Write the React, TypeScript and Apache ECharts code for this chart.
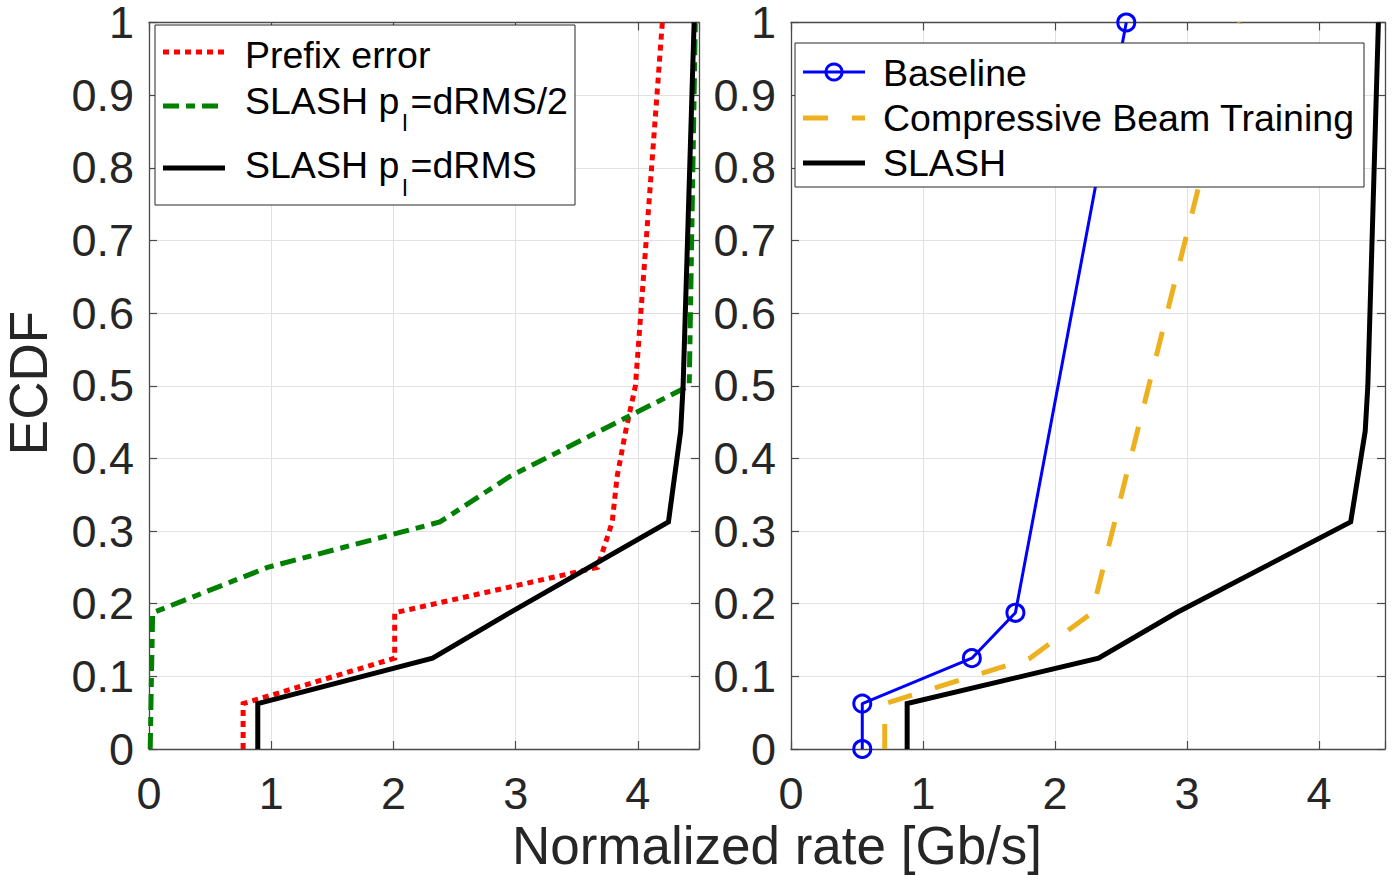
import React, { useEffect, useRef } from "react";
import * as echarts from "echarts";

// ---------- data ----------
// Left panel
const prefixRate = [0.77, 0.77, 2.01, 2.01, 3.67, 3.79, 3.83, 3.9, 3.98, 4.2];
const prefixEcdf = [0, 0.0625, 0.125, 0.1875, 0.25, 0.3125, 0.375, 0.4375, 0.5, 1];

const halfRate = [0.01, 0.02, 0.03, 0.97, 2.38, 2.95, 4.42, 4.47];
const halfEcdf = [0, 0.1, 0.1875, 0.25, 0.3125, 0.375, 0.5, 1];

const slashRate = [0.89, 0.89, 2.32, 2.95, 4.25, 4.35, 4.37, 4.46];
const slashEcdf = [0, 0.0625, 0.125, 0.1875, 0.3125, 0.4375, 0.5, 1];

// Right panel
const baselineRate = [0.54, 0.54, 1.37, 1.7, 2.54];
const baselineEcdf = [0, 0.0625, 0.125, 0.1875, 1];

const cbtRate = [0.71, 0.71, 1.81, 2.28, 3.4];
const cbtEcdf = [0, 0.0625, 0.125, 0.1875, 1];

const slash2Rate = [0.88, 0.88, 2.33, 2.92, 4.24, 4.35, 4.37, 4.45];
const slash2Ecdf = [0, 0.0625, 0.125, 0.1875, 0.3125, 0.4375, 0.5, 1];

const xLabel = "Normalized rate [Gb/s]";
const yLabel = "ECDF";

const zip = (xs: number[], ys: number[]) => xs.map((x, i) => [x, ys[i]]);

const FONT = '"Liberation Sans", Arial, Helvetica, sans-serif';
const AX = "#4a4a4a";
const GRID = "#e2e2e2";
const TXT = "#262626";

function measure(t: string, size: number): number {
  const c = document.createElement("canvas").getContext("2d");
  if (!c) return t.length * size * 0.55;
  c.font = `${size}px "Liberation Sans"`;
  return c.measureText(t).width;
}

export default function App() {
  const ref = useRef<HTMLDivElement>(null);

  useEffect(() => {
    const chart = echarts.init(ref.current!, null, { renderer: "svg" });

    const grids = [
      { left: 149, top: 20, width: 550, height: 729 },
      { left: 791, top: 20, width: 594, height: 729 },
    ];

    const bottomX = (i: number) => ({
      type: "value",
      gridIndex: i,
      min: 0,
      max: 4.5,
      interval: 1,
      position: "bottom",
      axisLine: { show: true, onZero: false, lineStyle: { color: AX, width: 1.3 } },
      axisTick: { show: true, inside: true, length: 8, lineStyle: { color: AX, width: 1.2 } },
      axisLabel: {
        fontSize: 45,
        lineHeight: 36,
        fontFamily: FONT,
        color: TXT,
        margin: 44,
        verticalAlign: "middle",
        formatter: (v: number) => (Math.abs(v - Math.round(v)) < 1e-9 ? String(Math.round(v)) : ""),
      },
      splitLine: { show: true, lineStyle: { color: GRID, width: 1 } },
    });
    const topX = (i: number) => ({
      type: "value",
      gridIndex: i,
      min: 0,
      max: 4.5,
      interval: 1,
      position: "top",
      axisLine: { show: true, onZero: false, lineStyle: { color: AX, width: 1.3 } },
      axisTick: { show: true, inside: true, length: 8, lineStyle: { color: AX, width: 1.2 } },
      axisLabel: { show: false },
      splitLine: { show: false },
    });
    const leftY = (i: number) => ({
      type: "value",
      gridIndex: i,
      min: 0,
      max: 1,
      interval: 0.1,
      position: "left",
      axisLine: { show: true, onZero: false, lineStyle: { color: AX, width: 1.3 } },
      axisTick: { show: true, inside: true, length: 8, lineStyle: { color: AX, width: 1.2 } },
      axisLabel: {
        fontSize: 45,
        lineHeight: 34,
        fontFamily: FONT,
        color: TXT,
        margin: 15,
        formatter: (v: number) => String(Math.round(v * 10) / 10),
      },
      splitLine: { show: true, lineStyle: { color: GRID, width: 1 } },
    });
    const rightY = (i: number) => ({
      type: "value",
      gridIndex: i,
      min: 0,
      max: 1,
      interval: 0.1,
      position: "right",
      axisLine: { show: true, onZero: false, lineStyle: { color: AX, width: 1.3 } },
      axisTick: { show: true, inside: true, length: 8, lineStyle: { color: AX, width: 1.2 } },
      axisLabel: { show: false },
      splitLine: { show: false },
    });

    const lineSeries = (
      name: string,
      data: number[][],
      idx: number,
      color: string,
      width: number,
      type: any
    ) => ({
      name,
      type: "line",
      xAxisIndex: idx,
      yAxisIndex: idx,
      data,
      showSymbol: false,
      symbol: "none",
      lineStyle: { color, width, type, cap: "butt", join: "miter" },
      itemStyle: { color },
      z: 3,
    });

    // legend helpers
    const L = 37.5; // legend font size
    const SUB = 24;
    const txt = (text: string, x: number, y: number, size = L) => ({
      type: "text",
      x,
      y,
      z: 101,
      style: { text, fontSize: size, fontFamily: FONT, fill: "#000", align: "left", verticalAlign: "middle", lineHeight: size * 0.9 },
    });
    const subRow = (x0: number, y: number, ySub: number, rest: string) => {
      const w1 = measure("SLASH p", L);
      const sx = x0 + w1 + 3;
      const sw = measure("l", SUB);
      return [txt("SLASH p", x0, y), txt("l", sx, ySub, SUB), txt(rest, sx + sw + 3, y)];
    };

    const graphic: any[] = [
      // left legend
      { type: "rect", z: 100, shape: { x: 155, y: 25, width: 420, height: 180 }, style: { fill: "#fff", stroke: "#262626", lineWidth: 1 } },
      { type: "line", z: 101, shape: { x1: 163, y1: 52, x2: 225, y2: 52 }, style: { stroke: "#ff0000", lineWidth: 5, lineDash: [6, 5] } },
      txt("Prefix error", 245, 55),
      { type: "line", z: 101, shape: { x1: 163, y1: 106, x2: 225, y2: 106 }, style: { stroke: "#008000", lineWidth: 5, lineDash: [16, 7, 9, 7] } },
      ...subRow(245, 101, 122, "=dRMS/2"),
      { type: "line", z: 101, shape: { x1: 163, y1: 168, x2: 225, y2: 168 }, style: { stroke: "#000", lineWidth: 5 } },
      ...subRow(245, 165, 187, "=dRMS"),

      // right legend
      { type: "rect", z: 100, shape: { x: 795, y: 43, width: 569, height: 144 }, style: { fill: "#fff", stroke: "#262626", lineWidth: 1 } },
      { type: "line", z: 101, shape: { x1: 803, y1: 72, x2: 865, y2: 72 }, style: { stroke: "#0000ff", lineWidth: 3 } },
      { type: "circle", z: 101, shape: { cx: 834, cy: 72, r: 8 }, style: { fill: "none", stroke: "#0000ff", lineWidth: 3 } },
      txt("Baseline", 883, 73),
      { type: "line", z: 101, shape: { x1: 803, y1: 118, x2: 865, y2: 118 }, style: { stroke: "#EDB120", lineWidth: 5, lineDash: [25, 24] } },
      txt("Compressive Beam Training", 883, 118),
      { type: "line", z: 101, shape: { x1: 803, y1: 163, x2: 865, y2: 163 }, style: { stroke: "#000", lineWidth: 5 } },
      txt("SLASH", 883, 163),

      // axis titles
      { type: "text", x: 28, y: 383, rotation: Math.PI / 2, z: 101, style: { text: yLabel, fontSize: 53, lineHeight: 42, fontFamily: FONT, fill: TXT, align: "center", verticalAlign: "middle" } },
      { type: "text", x: 777, y: 845, z: 101, style: { text: xLabel, fontSize: 53, lineHeight: 42, fontFamily: FONT, fill: TXT, align: "center", verticalAlign: "middle" } },
    ];

    const option: any = {
      animation: false,
      backgroundColor: "#fff",
      grid: grids,
      xAxis: [bottomX(0), bottomX(1), topX(0), topX(1)],
      yAxis: [leftY(0), leftY(1), rightY(0), rightY(1)],
      series: [
        lineSeries("Prefix error", zip(prefixRate, prefixEcdf), 0, "#ff0000", 5, [6, 5]),
        lineSeries("SLASH pl=dRMS/2", zip(halfRate, halfEcdf), 0, "#008000", 5, [16, 7, 9, 7]),
        lineSeries("SLASH pl=dRMS", zip(slashRate, slashEcdf), 0, "#000000", 5, "solid"),
        {
          name: "Baseline",
          type: "line",
          xAxisIndex: 1,
          yAxisIndex: 1,
          data: zip(baselineRate, baselineEcdf),
          symbol: "circle",
          symbolSize: 17,
          showSymbol: true,
          clip: false,
          lineStyle: { color: "#0000ff", width: 3 },
          itemStyle: { color: "rgba(0,0,0,0)", borderColor: "#0000ff", borderWidth: 3 },
          z: 3,
        },
        lineSeries("Compressive Beam Training", zip(cbtRate, cbtEcdf), 1, "#EDB120", 5, [25, 24]),
        lineSeries("SLASH", zip(slash2Rate, slash2Ecdf), 1, "#000000", 5, "solid"),
      ],
      graphic,
    };

    chart.setOption(option);
    return () => chart.dispose();
  }, []);

  return (
    <div
      ref={ref}
      style={{ position: "absolute", left: 0, top: 0, width: 1394, height: 875, background: "#fff" }}
    />
  );
}
